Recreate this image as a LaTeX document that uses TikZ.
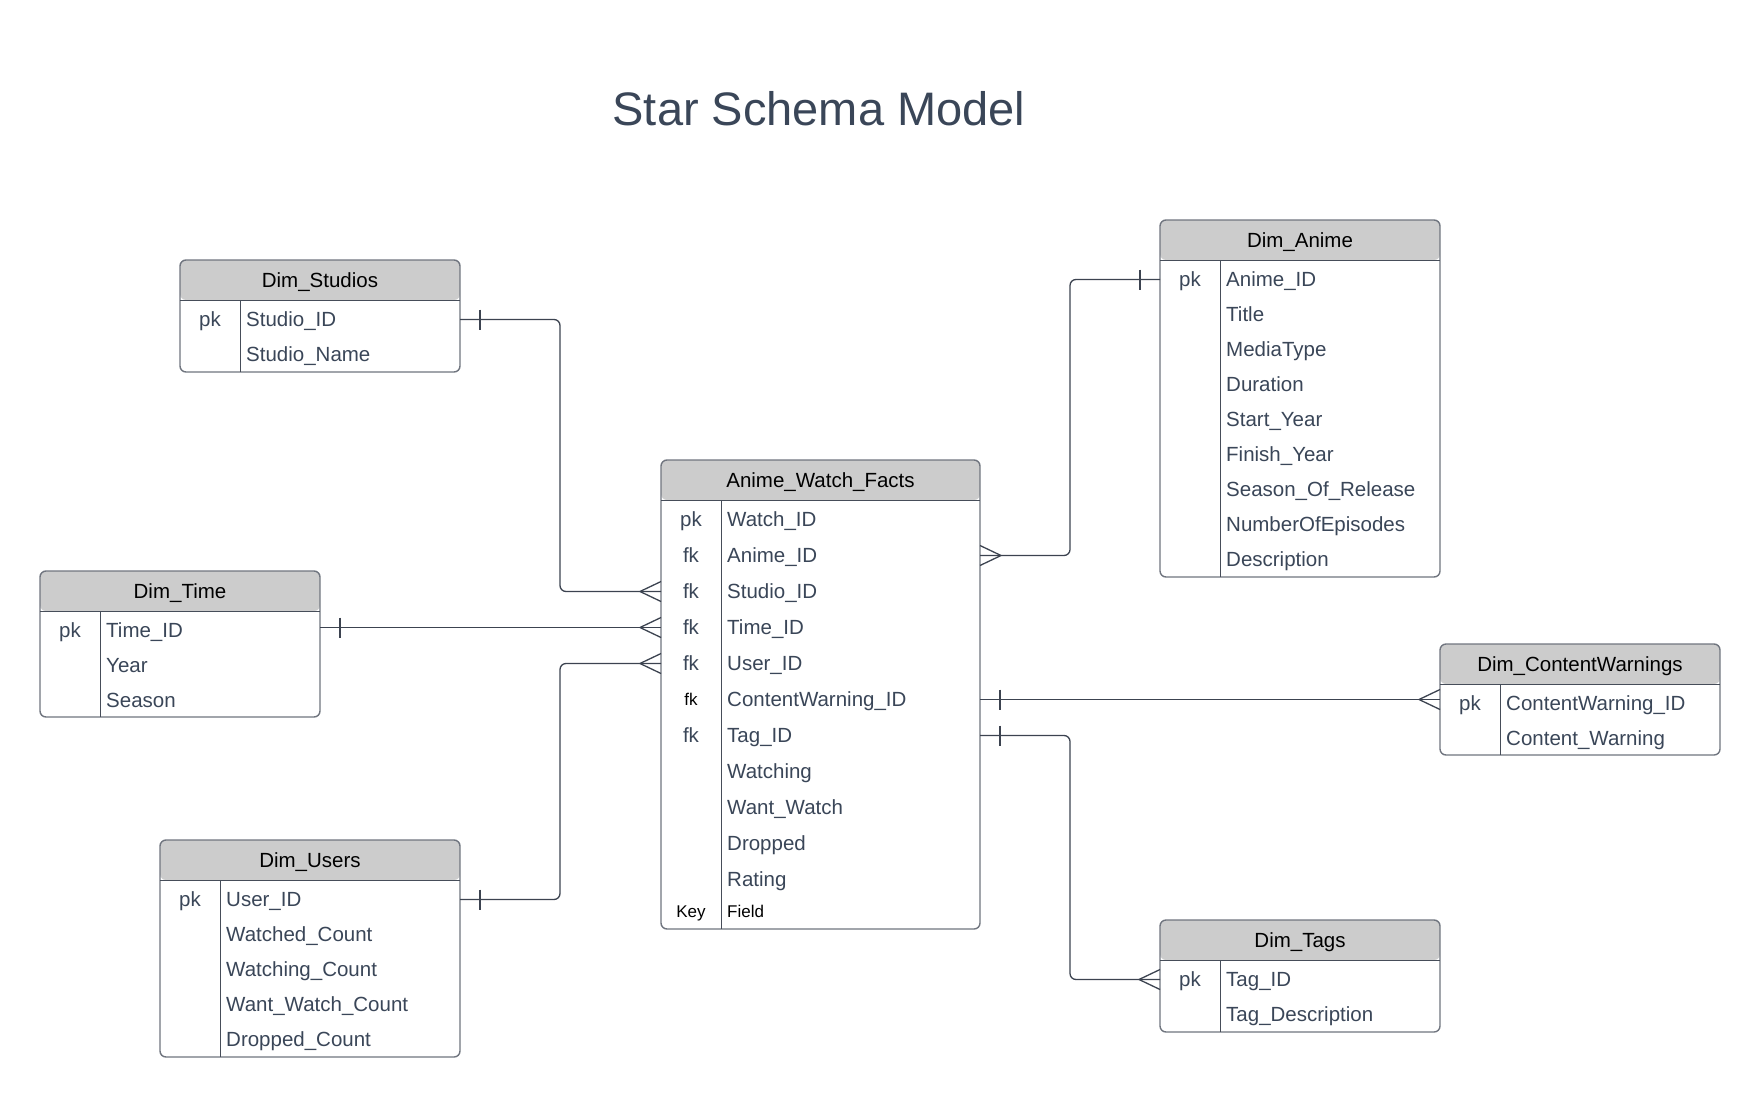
\documentclass[tikz,border=0pt]{standalone}
\usepackage{fontspec}
\setmainfont{Liberation Sans}
\usetikzlibrary{calc}
\definecolor{cCab}{HTML}{CCCCCC}
\definecolor{cBorde}{HTML}{70757F}
\definecolor{cLinea}{HTML}{3C4350}
\definecolor{cTexto}{HTML}{3A4658}

\begin{document}
\begin{tikzpicture}[
    x=1pt, y=-1pt,
    tabla/.style={draw=cBorde, line width=1.4pt, fill=white, rounded corners=6pt,
        inner sep=0pt, outer sep=0pt, anchor=north west,
        path picture={\fill[cCab] (path picture bounding box.north west)
            rectangle ([yshift=-40pt]path picture bounding box.north east);}},
    raya/.style={draw=cLinea!80!cBorde, line width=1pt},
    cab/.style={font=\fontsize{20.5}{24}\selectfont, text=black, inner sep=0pt,
        text height=14.7pt, text depth=0pt},
    fld/.style={font=\fontsize{20.5}{24}\selectfont, text=cTexto, anchor=west,
        inner sep=0pt, text height=14.7pt, text depth=0pt},
    llave/.style={font=\fontsize{20.5}{24}\selectfont, text=cTexto, inner sep=0pt,
        text height=14.7pt, text depth=0pt},
    chico/.style={font=\fontsize{17}{20}\selectfont, text=black, inner sep=0pt,
        text height=12.2pt, text depth=0pt},
    rel/.style={draw=cLinea, line width=1.3pt, rounded corners=6pt},
    pata/.style={draw=cLinea, line width=1.3pt},
    pics/uno/.style={code={\draw[pata] (0,-10) -- (0,10);}},
    pics/muchos/.style={code={\draw[pata] (21,-10) -- (0,0) -- (21,10);}},
]

\useasboundingbox (0,0) rectangle (1760,1097);

\node[font=\fontsize{47}{52}\selectfont, text=cTexto, anchor=base] (titulo) at (819,125) {Star Schema Model};

% ===================== Tabla de hechos =====================
\node[tabla, minimum width=319pt, minimum height=469pt] (fact) at (661,460) {};
\draw[raya] ([yshift=-40pt]fact.north west) -- ([yshift=-40pt]fact.north east);
\draw[raya] ([xshift=60pt,yshift=-40pt]fact.north west) -- ([xshift=60pt]fact.south west);
\node[cab] (fact-h) at ([yshift=-20pt]fact.north) {Anime\_Watch\_Facts};
\foreach \c [count=\i] in {Watch\_ID, Anime\_ID, Studio\_ID, Time\_ID, User\_ID, ContentWarning\_ID,
        Tag\_ID, Watching, Want\_Watch, Dropped, Rating} {
    \node[fld] (fact-\i) at ([xshift=66pt, yshift={-59.5pt-(\i-1)*36pt}]fact.north west) {\c};
}
\foreach \k/\i in {pk/1, fk/2, fk/3, fk/4, fk/5, fk/7} {
    \node[llave] (fact-k\i) at ([xshift=30pt, yshift={-59.5pt-(\i-1)*36pt}]fact.north west) {\k};
}
\node[chico] (fact-k6) at ([xshift=30pt, yshift=-239.5pt]fact.north west) {fk};
\node[chico] (fact-kk) at ([xshift=30pt, yshift=-451pt]fact.north west) {Key};
\node[chico, anchor=west] (fact-kf) at ([xshift=66pt, yshift=-451pt]fact.north west) {Field};

% ===================== Dim_Studios =====================
\node[tabla, minimum width=280pt, minimum height=112pt] (studios) at (180,260) {};
\draw[raya] ([yshift=-40pt]studios.north west) -- ([yshift=-40pt]studios.north east);
\draw[raya] ([xshift=60pt,yshift=-40pt]studios.north west) -- ([xshift=60pt]studios.south west);
\node[cab] (studios-h) at ([yshift=-20pt]studios.north) {Dim\_Studios};
\node[llave] (studios-k) at ([xshift=30pt, yshift=-59.5pt]studios.north west) {pk};
\foreach \c [count=\i] in {Studio\_ID, Studio\_Name} {
    \node[fld] (studios-\i) at ([xshift=66pt, yshift={-59.5pt-(\i-1)*35pt}]studios.north west) {\c};
}

% ===================== Dim_Time =====================
\node[tabla, minimum width=280pt, minimum height=146pt] (time) at (40,571) {};
\draw[raya] ([yshift=-40pt]time.north west) -- ([yshift=-40pt]time.north east);
\draw[raya] ([xshift=60pt,yshift=-40pt]time.north west) -- ([xshift=60pt]time.south west);
\node[cab] (time-h) at ([yshift=-20pt]time.north) {Dim\_Time};
\node[llave] (time-k) at ([xshift=30pt, yshift=-59.5pt]time.north west) {pk};
\foreach \c [count=\i] in {Time\_ID, Year, Season} {
    \node[fld] (time-\i) at ([xshift=66pt, yshift={-59.5pt-(\i-1)*35pt}]time.north west) {\c};
}

% ===================== Dim_Users =====================
\node[tabla, minimum width=300pt, minimum height=217pt] (users) at (160,840) {};
\draw[raya] ([yshift=-40pt]users.north west) -- ([yshift=-40pt]users.north east);
\draw[raya] ([xshift=60pt,yshift=-40pt]users.north west) -- ([xshift=60pt]users.south west);
\node[cab] (users-h) at ([yshift=-20pt]users.north) {Dim\_Users};
\node[llave] (users-k) at ([xshift=30pt, yshift=-59.5pt]users.north west) {pk};
\foreach \c [count=\i] in {User\_ID, Watched\_Count, Watching\_Count, Want\_Watch\_Count, Dropped\_Count} {
    \node[fld] (users-\i) at ([xshift=66pt, yshift={-59.5pt-(\i-1)*35pt}]users.north west) {\c};
}

% ===================== Dim_Anime =====================
\node[tabla, minimum width=280pt, minimum height=357pt] (anime) at (1160,220) {};
\draw[raya] ([yshift=-40pt]anime.north west) -- ([yshift=-40pt]anime.north east);
\draw[raya] ([xshift=60pt,yshift=-40pt]anime.north west) -- ([xshift=60pt]anime.south west);
\node[cab] (anime-h) at ([yshift=-20pt]anime.north) {Dim\_Anime};
\node[llave] (anime-k) at ([xshift=30pt, yshift=-59.5pt]anime.north west) {pk};
\foreach \c [count=\i] in {Anime\_ID, Title, MediaType, Duration, Start\_Year, Finish\_Year,
        Season\_Of\_Release, NumberOfEpisodes, Description} {
    \node[fld] (anime-\i) at ([xshift=66pt, yshift={-59.5pt-(\i-1)*35pt}]anime.north west) {\c};
}

% ===================== Dim_ContentWarnings =====================
\node[tabla, minimum width=280pt, minimum height=111pt] (cw) at (1440,644) {};
\draw[raya] ([yshift=-40pt]cw.north west) -- ([yshift=-40pt]cw.north east);
\draw[raya] ([xshift=60pt,yshift=-40pt]cw.north west) -- ([xshift=60pt]cw.south west);
\node[cab] (cw-h) at ([yshift=-20pt]cw.north) {Dim\_ContentWarnings};
\node[llave] (cw-k) at ([xshift=30pt, yshift=-59.5pt]cw.north west) {pk};
\foreach \c [count=\i] in {ContentWarning\_ID, Content\_Warning} {
    \node[fld] (cw-\i) at ([xshift=66pt, yshift={-59.5pt-(\i-1)*35pt}]cw.north west) {\c};
}

% ===================== Dim_Tags =====================
\node[tabla, minimum width=280pt, minimum height=112pt] (tags) at (1160,920) {};
\draw[raya] ([yshift=-40pt]tags.north west) -- ([yshift=-40pt]tags.north east);
\draw[raya] ([xshift=60pt,yshift=-40pt]tags.north west) -- ([xshift=60pt]tags.south west);
\node[cab] (tags-h) at ([yshift=-20pt]tags.north) {Dim\_Tags};
\node[llave] (tags-k) at ([xshift=30pt, yshift=-59.5pt]tags.north west) {pk};
\foreach \c [count=\i] in {Tag\_ID, Tag\_Description} {
    \node[fld] (tags-\i) at ([xshift=66pt, yshift={-59.5pt-(\i-1)*35pt}]tags.north west) {\c};
}

% ===================== Relaciones =====================
\draw[rel] (studios.east |- studios-1) -- ++(100,0) |- (fact.west |- fact-3);
\pic at ($(studios.east |- studios-1)+(20,0)$) {uno};
\pic at ($(fact.west |- fact-3)+(-21,0)$) {muchos};

\draw[rel] (time.east |- fact-4) -- (fact.west |- fact-4);
\pic at ($(time.east |- fact-4)+(20,0)$) {uno};
\pic at ($(fact.west |- fact-4)+(-21,0)$) {muchos};

\draw[rel] (users.east |- users-1) -- ++(100,0) |- (fact.west |- fact-5);
\pic at ($(users.east |- users-1)+(20,0)$) {uno};
\pic at ($(fact.west |- fact-5)+(-21,0)$) {muchos};

\draw[rel] (fact.east |- fact-2) -- ++(90,0) |- (anime.west |- anime-1);
\pic[xscale=-1] at ($(fact.east |- fact-2)+(21,0)$) {muchos};
\pic at ($(anime.west |- anime-1)+(-20,0)$) {uno};

\draw[rel] (fact.east |- fact-6) -- (cw.west |- fact-6);
\pic at ($(fact.east |- fact-6)+(20,0)$) {uno};
\pic at ($(cw.west |- fact-6)+(-21,0)$) {muchos};

\draw[rel] (fact.east |- fact-7) -- ++(90,0) |- (tags.west |- tags-1);
\pic at ($(fact.east |- fact-7)+(20,0)$) {uno};
\pic at ($(tags.west |- tags-1)+(-21,0)$) {muchos};

\end{tikzpicture}
\end{document}
